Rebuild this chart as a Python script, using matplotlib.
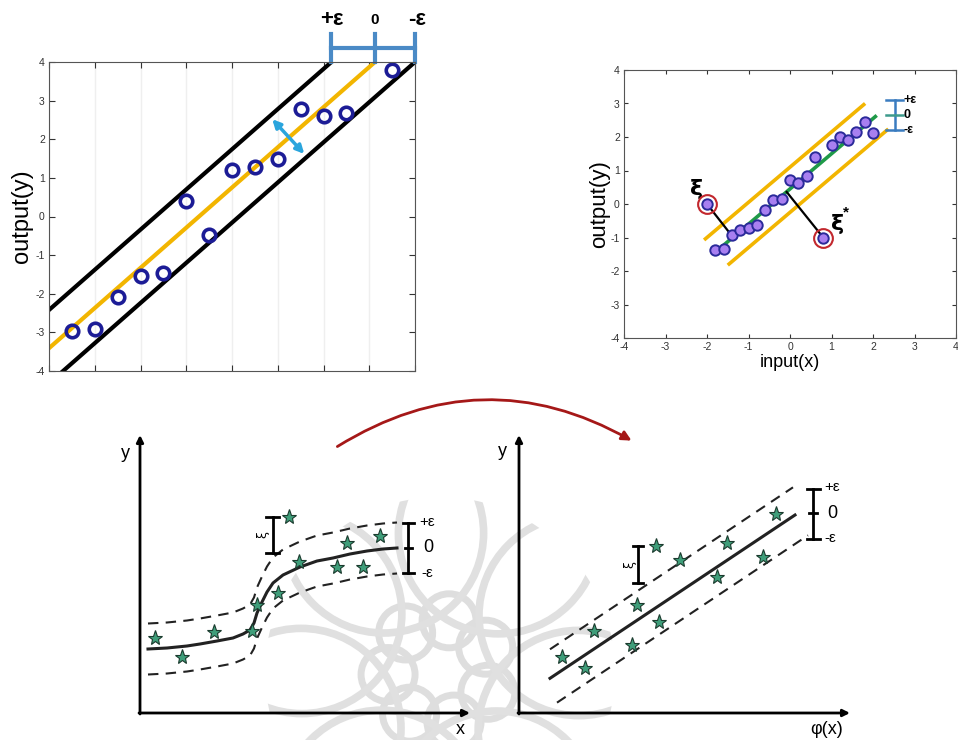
import numpy as np
import matplotlib.pyplot as plt
from matplotlib.patches import FancyArrowPatch, Circle

plt.rcParams['font.family'] = ['Liberation Sans', 'DejaVu Sans']
plt.rcParams['axes.unicode_minus'] = False

W, H = 958, 740

# top-left: epsilon tube around a linear fit
p1_x = [-3.5, -3.0, -2.5, -2.0, -1.5, -1.0, -0.5, 0.0, 0.5, 1.0, 1.5, 2.0, 2.5, 3.5]
p1_y = [-2.97, -2.92, -2.08, -1.54, -1.47, 0.39, -0.49, 1.20, 1.29, 1.48, 2.78, 2.60, 2.67, 3.79]
p1_slope = 1.04
p1_cut = {'upper': 1.74, 'mid': 0.75, 'lower': -0.16}
p1_ticks = [-4, -3, -2, -1, 0, 1, 2, 3, 4]

# top-right: fit with slack points
p2_x = [-1.8, -1.6, -1.4, -1.2, -1.0, -0.8, -0.6, -0.4, -0.2, 0.0,
        0.2, 0.4, 0.6, 1.0, 1.2, 1.4, 1.6, 1.8, 2.0]
p2_y = [-1.37, -1.35, -0.92, -0.77, -0.72, -0.64, -0.18, 0.12, 0.14, 0.71,
        0.63, 0.83, 1.41, 1.75, 2.00, 1.90, 2.15, 2.45, 2.12]
p2_out_x = [-2.0, 0.8]
p2_out_y = [0.0, -1.0]
p2_foot_x = [-1.40, -0.08]
p2_foot_y = [-0.95, 0.36]
p2_slope = 1.05
p2_green = (0.45, -1.82, 2.09)   # intercept, x start, x end
p2_up = (1.10, -2.07, 1.81)
p2_lo = (-0.25, -1.50, 2.37)

# bottom-left: nonlinear fit (pixel-like units, origin at axes corner)
bl_curve_x = [8, 27, 47, 60, 77, 93, 103, 110, 114, 117, 122, 127, 133, 143,
              160, 177, 193, 210, 227, 243, 257]
bl_curve_y = [64, 65, 67, 69, 72, 75, 79, 83, 90, 100, 111, 121, 130, 138,
              146, 152, 155, 159, 162, 164, 165]
bl_eps = 25.5
bl_star_x = [15, 42, 74, 112, 117, 138, 159, 197, 207, 223, 240, 149]
bl_star_y = [75, 56, 81, 82, 108, 120, 151, 146, 170, 146, 177, 196]

# bottom-right: linear fit in feature space
br_line_x = [31, 276]
br_line_y = [34.7, 198]
br_eps = 29
br_star_x = [43, 66, 75, 113, 118, 140, 161, 198, 208, 244, 257, 137]
br_star_y = [56, 45, 82, 68, 108, 91, 153, 136, 170, 156, 199, 167]

YELLOW = '#f2b500'
NAVY = '#1c1c96'
STAR_FC = '#3f9e7a'
STAR_EC = '#1b3b2e'

fig = plt.figure(figsize=(W / 100, H / 100), dpi=100)


def box(l, t, r, b):
    return [l / W, 1 - b / H, (r - l) / W, (b - t) / H]


# faint watermark behind everything
bg = fig.add_axes([0, 0, 1, 1], zorder=-5)
bg.set_xlim(0, W)
bg.set_ylim(H, 0)
bg.axis('off')
cx, cy = 440, 672
clip = Circle((cx, cy), 175, transform=bg.transData, fc='none', ec='none')
bg.add_patch(clip)
for k in range(7):
    a = 2 * np.pi * k / 7 + 0.4
    c = Circle((cx + 52 * np.cos(a), cy + 52 * np.sin(a)), 27, fc='none',
               ec='#dedede', lw=5)
    bg.add_patch(c)
    c.set_clip_path(clip)
for k in range(8):
    a = 2 * np.pi * k / 8 + 0.4
    c = Circle((cx + 150 * np.cos(a), cy + 150 * np.sin(a)), 100, fc='none',
               ec='#e0e0e0', lw=5.5)
    bg.add_patch(c)
    c.set_clip_path(clip)

# ---------- top-left ----------
ax1 = fig.add_axes(box(49, 62, 415, 371))
xx = np.array([-4.5, 4.5])
for name, c in p1_cut.items():
    col = YELLOW if name == 'mid' else 'black'
    ax1.plot(xx, p1_slope * xx + c, color=col, lw=3, solid_capstyle='butt')
ax1.plot(p1_x, p1_y, 'o', ms=9, mfc='none', mec=NAVY, mew=2.6)
ax1.annotate('', xy=(0.88, 2.52), xytext=(1.58, 1.62),
             arrowprops=dict(arrowstyle='<|-|>', color='#2aa5dd', lw=2.5,
                             mutation_scale=12, shrinkA=0, shrinkB=0))
ax1.set_xlim(-4, 4)
ax1.set_ylim(-4, 4)
ax1.set_xticks(p1_ticks)
ax1.set_xticklabels([])
ax1.set_yticks(p1_ticks)
ax1.tick_params(direction='in', top=True, right=True, labelsize=7.5,
                colors='#333333', length=4, pad=3)
for x in p1_ticks:
    ax1.axvline(x, color='#efefef', lw=1, zorder=0)
for s in ax1.spines.values():
    s.set_color('#555555')
    s.set_linewidth(0.8)
ax1.set_ylabel('output(y)', fontsize=17, labelpad=2)
# epsilon scale above the plot
tops = [(4 - p1_cut[k]) / p1_slope for k in ('upper', 'mid', 'lower')]
ax1.plot([tops[0], tops[2]], [4.36, 4.36], color='#4a8ac6', lw=3, clip_on=False)
for t in tops:
    ax1.plot([t, t], [4.0, 4.72], color='#4a8ac6', lw=3, clip_on=False)
ax1.text(tops[0], 5.1, '+ε', fontsize=16, fontweight='bold', ha='center', va='center')
ax1.text(tops[1], 5.1, '0', fontsize=11, fontweight='bold', ha='center', va='center')
ax1.text(tops[2] + 0.05, 5.1, '-ε', fontsize=16, fontweight='bold', ha='center', va='center')

# ---------- top-right ----------
ax2 = fig.add_axes(box(624, 70, 956, 338))
for (c, x0, x1), col in [(p2_up, YELLOW), (p2_lo, YELLOW), (p2_green, '#1f9a48')]:
    xs = np.array([x0, x1])
    ax2.plot(xs, p2_slope * xs + c, color=col, lw=2.6, solid_capstyle='butt')
for i in range(2):
    ax2.plot([p2_out_x[i], p2_foot_x[i]], [p2_out_y[i], p2_foot_y[i]],
             color='black', lw=1.6, zorder=3)
ax2.plot(p2_x, p2_y, 'o', ms=7.5, mfc='#a87ff0', mec='#2a2a9a', mew=1.4, zorder=4)
ax2.plot(p2_out_x, p2_out_y, 'o', ms=7.5, mfc='#a87ff0', mec='#2a2a9a', mew=1.4, zorder=4)
ax2.plot(p2_out_x, p2_out_y, 'o', ms=13.5, mfc='none', mec='#c2272d', mew=1.5, zorder=4)
ax2.text(-2.25, 0.45, 'ξ', fontsize=16, fontweight='bold', ha='center', va='center',
         family='DejaVu Sans')
ax2.text(1.15, -0.6, 'ξ', fontsize=16, fontweight='bold', ha='center', va='center',
         family='DejaVu Sans')
ax2.text(1.34, -0.26, '*', fontsize=11, fontweight='bold', ha='center', va='center')
ex = 2.52
ax2.plot([ex, ex], [2.2, 3.11], color='#3a7cc0', lw=1.8)
ax2.plot([ex - 0.2, ex + 0.2], [3.11, 3.11], color='#3a7cc0', lw=1.8)
ax2.plot([ex - 0.2, ex + 0.2], [2.2, 2.2], color='#3a7cc0', lw=1.8)
ax2.plot([ex - 0.2, ex + 0.2], [2.65, 2.65], color='#3d9a8c', lw=1.8)
ax2.text(ex + 0.22, 3.11, '+ε', fontsize=9, fontweight='bold', va='center')
ax2.text(ex + 0.22, 2.65, '0', fontsize=9, fontweight='bold', va='center')
ax2.text(ex + 0.22, 2.2, '-ε', fontsize=9, fontweight='bold', va='center')
ax2.set_xlim(-4, 4)
ax2.set_ylim(-4, 4)
ax2.set_xticks(p1_ticks)
ax2.set_yticks(p1_ticks)
ax2.tick_params(direction='in', top=True, right=True, labelsize=7.5,
                colors='#333333', length=3, pad=3)
for s in ax2.spines.values():
    s.set_color('#555555')
    s.set_linewidth(0.8)
ax2.set_ylabel('output(y)', fontsize=16, labelpad=0)
ax2.set_xlabel('input(x)', fontsize=13, labelpad=1)


# ---------- bottom diagrams ----------
def frame(ax, xmax, ymax, xlab, ylab_pos, xlab_pos):
    ax.set_xlim(0, xmax)
    ax.set_ylim(0, ymax)
    ax.axis('off')
    kw = dict(arrowstyle='-|>', color='black', lw=2, mutation_scale=10,
              shrinkA=0, shrinkB=0)
    ax.annotate('', xy=(xmax, 0), xytext=(-1, 0), arrowprops=kw, annotation_clip=False)
    ax.annotate('', xy=(0, ymax), xytext=(0, -1), arrowprops=kw, annotation_clip=False)
    ax.text(*ylab_pos, 'y', fontsize=13, ha='center', va='center')
    ax.text(*xlab_pos, xlab, fontsize=13, ha='center', va='center')


def bracket(ax, x, y0, y1, half, mid=None, lw=2):
    ax.plot([x, x], [y0, y1], color='black', lw=lw, clip_on=False)
    for y in (y0, y1):
        ax.plot([x - half, x + half], [y, y], color='black', lw=lw, clip_on=False)
    if mid is not None:
        ax.plot([x - half * 0.6, x + half * 0.6], [mid, mid], color='black', lw=lw, clip_on=False)


def stars(ax, xs, ys):
    ax.plot(xs, ys, '*', ms=11, mfc=STAR_FC, mec=STAR_EC, mew=0.8, clip_on=False, zorder=4)


# left
ax3 = fig.add_axes(box(140, 435, 470, 713))
frame(ax3, 330, 278, 'x', (-15, 260), (320, -17))
cxv = np.array(bl_curve_x)
cyv = np.array(bl_curve_y)
ax3.plot(cxv, cyv, color='#222222', lw=2.2)
ax3.plot(cxv, cyv + bl_eps, color='#222222', lw=1.5, ls=(0, (5, 3.5)))
ax3.plot(cxv, cyv - bl_eps, color='#222222', lw=1.5, ls=(0, (5, 3.5)))
stars(ax3, bl_star_x, bl_star_y)
bracket(ax3, 132.7, 159.7, 196.3, 6.5)
ax3.text(123, 178, 'ξ', fontsize=9, rotation=90, ha='center', va='center', family='DejaVu Sans')
bracket(ax3, 268.3, 139.7, 189.7, 5.5, mid=165.3)
ax3.text(279, 191, '+ε', fontsize=11, va='center')
ax3.text(283, 166, '0', fontsize=13, va='center')
ax3.text(281, 140, '-ε', fontsize=11, va='center')

# right
ax4 = fig.add_axes(box(519, 435, 850, 713))
frame(ax4, 331, 278, 'φ(x)', (-17, 261), (308, -17))
lx = np.array(br_line_x)
ly = np.array(br_line_y)
k = (ly[1] - ly[0]) / (lx[1] - lx[0])
ax4.plot(lx, ly, color='#222222', lw=2.2)
ux = np.array([31, 274])
ax4.plot(ux, ly[0] + k * (ux - lx[0]) + br_eps, color='#222222', lw=1.5, ls=(0, (5, 3.5)))
dx = np.array([38, 289])
ax4.plot(dx, ly[0] + k * (dx - lx[0]) - br_eps, color='#222222', lw=1.5, ls=(0, (5, 3.5)))
stars(ax4, br_star_x, br_star_y)
bracket(ax4, 119.3, 129.7, 167, 5)
ax4.text(111, 148, 'ξ', fontsize=9, rotation=90, ha='center', va='center', family='DejaVu Sans')
bracket(ax4, 294.3, 173.7, 224, 6.5, mid=199.7)
ax4.text(305, 226, '+ε', fontsize=11, va='center')
ax4.text(308, 200, '0', fontsize=13, va='center')
ax4.text(305, 175, '-ε', fontsize=11, va='center')

# curved red arrow between the two diagrams
arr = FancyArrowPatch((335 / W, 1 - 448 / H), (634 / W, 1 - 442 / H),
                      transform=fig.transFigure, connectionstyle='arc3,rad=-0.3',
                      arrowstyle='-|>', mutation_scale=14, color='#a51818', lw=2)
fig.patches.append(arr)

fig.savefig('out.png', dpi=100)
